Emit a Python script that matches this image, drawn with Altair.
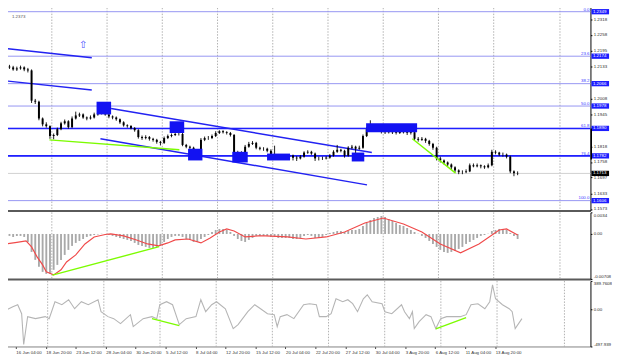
import json
import altair as alt
import pandas as pd

# ---------------- layout (reference pixel scale; page margin offset by negative padding) ----------------
W = 600
H_MAIN, H_MACD, H_CCI = 210, 68, 67
FONT = "Liberation Sans"
FS = 4.5

# ---------------- data ----------------
# H4 bar number (0 = 16 Jun 04:00); one candle drawn per two bars
bar_idx = list(range(-6, 272, 2))
first_open = 1.2133
closes = [
    1.2130, 1.2122, 1.2126,
    1.2130, 1.2122, 1.2118, 1.1999, 1.1995, 1.1929, 1.1906, 1.1899,
    1.1860, 1.1864, 1.1887, 1.1910, 1.1918, 1.1895, 1.1929, 1.1941,
    1.1945, 1.1933, 1.1929, 1.1933, 1.1945, 1.1949, 1.1960, 1.1945,
    1.1937, 1.1933, 1.1926, 1.1914, 1.1902, 1.1899, 1.1891, 1.1883,
    1.1856, 1.1852, 1.1856, 1.1849, 1.1845, 1.1837, 1.1833, 1.1852,
    1.1860, 1.1864, 1.1868, 1.1868, 1.1825, 1.1818, 1.1814, 1.1791,
    1.1798, 1.1845, 1.1852, 1.1852, 1.1860, 1.1872, 1.1879, 1.1875,
    1.1872, 1.1864, 1.1795, 1.1795, 1.1791, 1.1818, 1.1829, 1.1833,
    1.1814, 1.1810, 1.1810, 1.1802, 1.1787, 1.1783, 1.1783, 1.1779,
    1.1779, 1.1783, 1.1775, 1.1772, 1.1779, 1.1795, 1.1798, 1.1791,
    1.1772, 1.1772, 1.1772, 1.1775, 1.1783, 1.1798, 1.1806, 1.1802,
    1.1783, 1.1814, 1.1818, 1.1810, 1.1814, 1.1860, 1.1887, 1.1899,
    1.1895, 1.1891, 1.1879, 1.1875, 1.1879, 1.1875, 1.1872, 1.1879,
    1.1875, 1.1872, 1.1875, 1.1849, 1.1845, 1.1849, 1.1841, 1.1829,
    1.1814, 1.1772, 1.1764, 1.1756, 1.1748, 1.1737, 1.1725, 1.1718,
    1.1718, 1.1721, 1.1745, 1.1741, 1.1745, 1.1741, 1.1737, 1.1745,
    1.1798, 1.1795, 1.1787, 1.1787, 1.1779, 1.1721, 1.1714, 1.1713,
]
highs = [
    1.2140, 1.2136, 1.2133,
    1.2137, 1.2134, 1.2128, 1.2122, 1.2006, 1.1999, 1.1933, 1.1914,
    1.1902, 1.1870, 1.1893, 1.1916, 1.1925, 1.1922, 1.1937, 1.1956,
    1.1952, 1.1949, 1.1937, 1.1941, 1.1952, 1.1956, 1.1972, 1.1966,
    1.1949, 1.1941, 1.1937, 1.1929, 1.1918, 1.1906, 1.1903, 1.1895,
    1.1887, 1.1862, 1.1863, 1.1860, 1.1853, 1.1849, 1.1841, 1.1858,
    1.1866, 1.1870, 1.1875, 1.1887, 1.1872, 1.1829, 1.1822, 1.1818,
    1.1806, 1.1852, 1.1858, 1.1860, 1.1866, 1.1879, 1.1883, 1.1883,
    1.1879, 1.1876, 1.1868, 1.1802, 1.1800, 1.1825, 1.1837, 1.1840,
    1.1837, 1.1818, 1.1816, 1.1814, 1.1808, 1.1822, 1.1789, 1.1787,
    1.1785, 1.1789, 1.1787, 1.1781, 1.1785, 1.1800, 1.1804, 1.1802,
    1.1795, 1.1779, 1.1779, 1.1781, 1.1789, 1.1804, 1.1825, 1.1810,
    1.1806, 1.1820, 1.1825, 1.1822, 1.1822, 1.1866, 1.1895, 1.1922,
    1.1903, 1.1899, 1.1895, 1.1883, 1.1887, 1.1883, 1.1879, 1.1887,
    1.1883, 1.1879, 1.1891, 1.1879, 1.1856, 1.1856, 1.1853, 1.1845,
    1.1833, 1.1818, 1.1779, 1.1768, 1.1760, 1.1752, 1.1741, 1.1729,
    1.1725, 1.1729, 1.1752, 1.1752, 1.1752, 1.1748, 1.1745, 1.1752,
    1.1806, 1.1804, 1.1798, 1.1795, 1.1791, 1.1783, 1.1725, 1.1721,
]
lows = [
    1.2124, 1.2117, 1.2116,
    1.2121, 1.2115, 1.2110, 1.1990, 1.1986, 1.1922, 1.1898, 1.1893,
    1.1849, 1.1847, 1.1860, 1.1883, 1.1905, 1.1889, 1.1891, 1.1925,
    1.1935, 1.1928, 1.1922, 1.1925, 1.1929, 1.1940, 1.1945, 1.1940,
    1.1930, 1.1926, 1.1920, 1.1908, 1.1897, 1.1893, 1.1886, 1.1877,
    1.1850, 1.1845, 1.1847, 1.1842, 1.1838, 1.1830, 1.1823, 1.1829,
    1.1848, 1.1855, 1.1860, 1.1862, 1.1820, 1.1812, 1.1806, 1.1782,
    1.1786, 1.1795, 1.1840, 1.1845, 1.1848, 1.1856, 1.1868, 1.1870,
    1.1866, 1.1858, 1.1788, 1.1786, 1.1783, 1.1787, 1.1814, 1.1825,
    1.1808, 1.1804, 1.1802, 1.1796, 1.1781, 1.1777, 1.1776, 1.1772,
    1.1771, 1.1774, 1.1764, 1.1762, 1.1768, 1.1775, 1.1790, 1.1786,
    1.1762, 1.1764, 1.1766, 1.1768, 1.1771, 1.1779, 1.1794, 1.1796,
    1.1775, 1.1779, 1.1808, 1.1775, 1.1806, 1.1810, 1.1856, 1.1883,
    1.1887, 1.1883, 1.1870, 1.1868, 1.1870, 1.1868, 1.1866, 1.1868,
    1.1870, 1.1864, 1.1866, 1.1841, 1.1838, 1.1841, 1.1833, 1.1822,
    1.1806, 1.1764, 1.1756, 1.1748, 1.1741, 1.1729, 1.1718, 1.1710,
    1.1710, 1.1714, 1.1718, 1.1737, 1.1737, 1.1733, 1.1731, 1.1733,
    1.1741, 1.1788, 1.1781, 1.1779, 1.1772, 1.1714, 1.1702, 1.1706,
]
macd_hist = [
    -0.00031, -0.00047, -0.00031,
    -0.00031, -0.00047, -0.00126, -0.00283, -0.00408, -0.00518, -0.00597, -0.00628,
    -0.00628, -0.00565, -0.00487, -0.00408, -0.00330, -0.00251, -0.00188, -0.00141,
    -0.00110, -0.00079, -0.00047, -0.00031, -0.00016, -0.00008, 0.00004, -0.00008,
    -0.00016, -0.00031, -0.00047, -0.00063, -0.00079, -0.00094, -0.00110, -0.00141,
    -0.00173, -0.00188, -0.00204, -0.00220, -0.00220, -0.00204, -0.00173, -0.00126,
    -0.00079, -0.00047, -0.00031, -0.00031, -0.00047, -0.00079, -0.00094, -0.00126,
    -0.00126, -0.00079, -0.00047, -0.00016, 0.00031, 0.00063, 0.00079, 0.00079,
    0.00063, 0.00031, -0.00031, -0.00079, -0.00110, -0.00126, -0.00094, -0.00063,
    -0.00031, -0.00031, -0.00031, -0.00031, -0.00047, -0.00047, -0.00063, -0.00063,
    -0.00063, -0.00063, -0.00079, -0.00079, -0.00063, -0.00031, -0.00016, -0.00031,
    -0.00063, -0.00063, -0.00047, -0.00016, 0.00016, 0.00031, 0.00047, 0.00047,
    0.00031, 0.00047, 0.00063, 0.00063, 0.00079, 0.00126, 0.00173, 0.00220,
    0.00251, 0.00267, 0.00283, 0.00267, 0.00236, 0.00204, 0.00173, 0.00141,
    0.00126, 0.00094, 0.00063, 0.00031, 0.00004, -0.00031, -0.00063, -0.00110,
    -0.00157, -0.00204, -0.00251, -0.00283, -0.00298, -0.00283, -0.00267, -0.00236,
    -0.00204, -0.00157, -0.00126, -0.00094, -0.00063, -0.00031, -0.00016, 0.00004,
    0.00047, 0.00063, 0.00079, 0.00079, 0.00063, 0.00016, -0.00031, -0.00079,
]

sig_idx = [-6.8, -2, 3, 6, 9, 12, 14, 18, 22, 25, 30, 35, 40, 46, 49, 56, 63, 69, 75, 80,
           84, 91, 98, 103, 108, 112, 116, 122, 129, 133, 145, 155, 166, 176, 187, 197,
           208, 218, 228, 239, 249, 260, 264, 270]
sig_val = [-0.00152, -0.00133, -0.00110, -0.00204, -0.00361, -0.00487, -0.00597, -0.00644,
           -0.00565, -0.00440, -0.00330, -0.00157, -0.00047, -0.00008, 0.0, -0.00031,
           -0.00094, -0.00157, -0.00188, -0.00141, -0.00094, -0.00079, -0.00141, -0.00063,
           0.00031, 0.00079, 0.00047, -0.00047, -0.00031, -0.00031, -0.00047, -0.00079,
           -0.00047, 0.00031, 0.00173, 0.00251, 0.00157, 0.00031, -0.00157, -0.00298,
           -0.00157, 0.00063, 0.00079, -0.00016]

cci_idx = [-6.8, -1.6, 1.0, 3.1, 4.2, 6.3, 10.5, 15.7, 17.8, 20.9, 24.6, 28.2, 31.4, 35.0,
           38.7, 43.9, 45.5, 49.2, 52.3, 55.9, 61.2, 62.7, 68.0, 72.7, 75.3, 76.9, 80.5,
           83.7, 87.3, 91.0, 96.2, 98.8, 101.4, 104.6, 107.2, 111.9, 116.1, 118.7, 123.9,
           127.6, 130.7, 134.4, 138.0, 139.6, 141.2, 144.8, 148.5, 153.7, 156.9, 160.5,
           162.1, 165.8, 168.4, 171.0, 174.6, 177.3, 179.9, 182.5, 185.6, 187.7, 190.3,
           195.6, 197.1, 200.8, 206.0, 207.6, 210.2, 211.8, 212.8, 215.4, 219.1, 221.7,
           224.3, 226.9, 230.1, 237.4, 240.5, 243.1, 246.8, 250.5, 253.1, 254.6, 256.2,
           259.9, 263.5, 265.1, 266.7, 270.3]
cci_val = [-27, 40, 67, -54, -471, -94, -121, -94, -121, 108, 67, 135, 13, 108,
           67, 135, -27, -94, -121, -188, -67, -229, -121, -94, -121, 67, 108,
           67, -202, -121, -94, 135, -27, 67, 108, 13, -256, -202, -27,
           67, 13, -54, -67, -229, -94, -67, -121, 67, 81, 67,
           -94, -94, -54, 148, 108, 135, 81, -27, 148, 202, 108,
           81, -27, -54, 67, -27, -121, -27, -256, -161, -67, -94,
           -256, -121, -94, -94, -67, 67, 81, 13, 108, 336, 148,
           67, 13, -27, -256, -121]

week_grid = [17, 47, 77, 107, 137, 167, 197, 227, 257, 293]
tick_idx = [0, 16, 32, 48, 64, 80, 96, 112, 128, 144, 160, 176, 192, 208, 224, 240, 256]
tick_labels = ["16 Jun 04:00", "18 Jun 20:00", "23 Jun 12:00", "28 Jun 04:00",
               "30 Jun 20:00", "5 Jul 12:00", "8 Jul 04:00", "12 Jul 20:00",
               "15 Jul 12:00", "20 Jul 04:00", "22 Jul 20:00", "27 Jul 12:00",
               "30 Jul 04:00", "3 Aug 20:00", "6 Aug 12:00", "11 Aug 04:00",
               "13 Aug 20:00"]

price_ticks = [1.2318, 1.2258, 1.2195, 1.2133, 1.2008, 1.1945, 1.1818, 1.1758,
               1.1697, 1.1633, 1.1573]
fib_levels = ["0.0", "23.6", "38.2", "50.0", "61.8", "76.4", "100.0"]
fib_prices = [1.2349, 1.2174, 1.2066, 1.1978, 1.1890, 1.1782, 1.1606]
bold_prices = [1.1890, 1.1782]
bid_price = [1.1713]
range_bar = [1.1890, 1.1768]
top_text = ["1.2373"]

chan_x1 = [-6.8, -6.8, 49.2, 43.4]
chan_y1 = [1.2203, 1.2076, 1.1968, 1.1849]
chan_x2 = [38.7, 38.7, 190.8, 188.2]
chan_y2 = [1.2168, 1.2041, 1.1795, 1.1668]

rect_x1 = [41.3, 81.0, 91.0, 115.0, 133.9, 179.9, 187.7]
rect_x2 = [49.2, 88.9, 98.8, 123.4, 146.4, 186.7, 215.4]
rect_y1 = [1.1995, 1.1918, 1.1810, 1.1798, 1.1791, 1.1795, 1.1910]
rect_y2 = [1.1945, 1.1872, 1.1764, 1.1756, 1.1764, 1.1760, 1.1875]

green_x1 = [15.7, 212.8]
green_y1 = [1.1845, 1.1849]
green_x2 = [86.3, 236.3]
green_y2 = [1.1806, 1.1714]

arrow_idx, arrow_price = [34], [1.2216]

macd_green = {"x1": [17.3], "y1": [-0.00647], "x2": [75.3], "y2": [-0.0020]}
cci_green = {"x1": [72.7, 224.3], "y1": [-121, -260], "x2": [87.3, 240.5], "y2": [-215, -108]}

macd_ticks = [0.0034, 0.0, -0.00708]
macd_tick_text = ["0.0034", "0.00", "-0.00708"]
cci_ticks = [389.7608, 0.0, -497.939]
cci_tick_text = ["389.7608", "0.00", "-497.939"]

# ---------------- frames ----------------
opens = [first_open] + closes[:-1]
cdf = pd.DataFrame({"i": bar_idx, "open": opens, "close": closes,
                    "high": highs, "low": lows, "hist": macd_hist})
grid_df = pd.DataFrame({"g": week_grid})
fib_df = pd.DataFrame({"price": fib_prices, "level": fib_levels,
                       "ptxt": [f"{p:.4f}" for p in fib_prices]})
cur_df = pd.DataFrame({"price": bid_price, "ptxt": [f"{p:.4f}" for p in bid_price]})
chan_df = pd.DataFrame({"x1": chan_x1, "y1": chan_y1, "x2": chan_x2, "y2": chan_y2})
rect_df = pd.DataFrame({"x1": rect_x1, "x2": rect_x2, "y1": rect_y1, "y2": rect_y2})
green_df = pd.DataFrame({"x1": green_x1, "y1": green_y1, "x2": green_x2, "y2": green_y2})
sig_df = pd.DataFrame({"i": sig_idx, "v": sig_val})
cci_df = pd.DataFrame({"i": cci_idx, "v": cci_val})

xs = alt.Scale(domain=[-6.8, 306.9], nice=False, zero=False)
ys_main = alt.Scale(domain=[1.15675, 1.2376], nice=False, zero=False)
ys_macd = alt.Scale(domain=[-0.00708, 0.0034], nice=False, zero=False)
ys_cci = alt.Scale(domain=[-497.939, 389.7608], nice=False, zero=False)


def lookup_expr(texts, vals):
    return f"{json.dumps(texts)}[indexof({json.dumps(vals)}, datum.value)]"


SEP_AXIS = alt.Axis(orient="bottom", labels=False, ticks=False, domain=True,
                    domainColor="#5a5a5a", domainWidth=2, grid=False, title=None)

right_common = dict(orient="right", labelFontSize=FS, labelFont=FONT, labelColor="#2a2a2a",
                    tickSize=1.5, tickColor="#000000", domainColor="#000000", domainWidth=1,
                    labelPadding=1.3, grid=False, title=None, labelOverlap=False)

MAIN_Y = alt.Axis(values=price_ticks, format=".4f", **right_common)
MACD_Y = alt.Axis(values=macd_ticks, labelExpr=lookup_expr(macd_tick_text, macd_ticks),
                  labelFlush=True, **right_common)
CCI_Y = alt.Axis(values=cci_ticks, labelExpr=lookup_expr(cci_tick_text, cci_ticks),
                 labelFlush=True, **right_common)
BOTTOM_X = alt.Axis(orient="bottom", values=tick_idx,
                    labelExpr=lookup_expr(tick_labels, tick_idx),
                    labelAlign="left", labelFontSize=FS, labelFont=FONT,
                    labelColor="#333333", tickSize=2, tickColor="#333333",
                    domainColor="#808080", domainWidth=1, labelPadding=1,
                    labelOverlap=False, labelFlush=False, grid=False, title=None)

# price box: custom symbol path, scaled by sqrt(size)/2 -> 18 px wide, 5.4 px tall
BOX_PATH = "M-1,-0.3H1V0.3H-1Z"
BOX_SIZE = 324
BOX_X = W + 10

grid_mark = dict(color="#9c9c9c", strokeWidth=0.8, strokeDash=[1.5, 1.5])


def panel(xaxis, yscale, yaxis):
    def X(f):
        return alt.X(f, type="quantitative", scale=xs, axis=xaxis)

    def Y(f):
        return alt.Y(f, type="quantitative", scale=yscale, axis=yaxis)
    return X, Y


# ---------------- main price panel ----------------
X, Y = panel(SEP_AXIS, ys_main, MAIN_Y)
g_main = alt.Chart(grid_df).mark_rule(**grid_mark).encode(x=X("g"))
fibl = alt.Chart(fib_df).mark_rule(color="#9494f2", strokeWidth=1).encode(y=Y("price"))
bold = alt.Chart(pd.DataFrame({"price": bold_prices})).mark_rule(
    color="#1f1fff", strokeWidth=1.6).encode(y=Y("price"))
bid = alt.Chart(cur_df).mark_rule(color="#d0d0d0", strokeWidth=1).encode(y=Y("price"))
chan = alt.Chart(chan_df).mark_rule(color="#2222f2", strokeWidth=1.5).encode(
    x=X("x1"), x2="x2:Q", y=Y("y1"), y2="y2:Q")
wick = alt.Chart(cdf).mark_rule(color="#000000", strokeWidth=0.9).encode(
    x=X("i"), y=Y("low"), y2="high:Q")
body = alt.Chart(cdf).mark_bar(color="#000000", size=2.0).encode(
    x=X("i"), y=Y("open"), y2="close:Q")
rects = alt.Chart(rect_df).mark_rect(color="#1212f2").encode(
    x=X("x1"), x2="x2:Q", y=Y("y1"), y2="y2:Q")
green = alt.Chart(green_df).mark_rule(color="#7cfc00", strokeWidth=1.4).encode(
    x=X("x1"), x2="x2:Q", y=Y("y1"), y2="y2:Q")
arrow = alt.Chart(pd.DataFrame({"i": arrow_idx, "p": arrow_price, "t": ["⇧"]})).mark_text(
    font="DejaVu Sans", fontSize=10, color="#4a4aff", baseline="middle").encode(
    x=X("i"), y=Y("p"), text="t:N")
fib_txt = alt.Chart(fib_df).mark_text(align="right", baseline="bottom", fontSize=FS, font=FONT,
                                      color="#3a3aff", dy=-0.2).encode(
    x=alt.value(W - 1), y=Y("price"), text="level:N")
boxes = alt.Chart(fib_df).mark_point(shape=BOX_PATH, size=BOX_SIZE, filled=True, opacity=1,
                                     color="#1d1dff", strokeWidth=0).encode(
    x=alt.value(BOX_X), y=Y("price"))
box_txt = alt.Chart(fib_df).mark_text(align="left", baseline="middle", fontSize=FS, font=FONT,
                                      color="#ffffff").encode(
    x=alt.value(W + 2.5), y=Y("price"), text="ptxt:N")
cur_box = alt.Chart(cur_df).mark_point(shape=BOX_PATH, size=BOX_SIZE, filled=True, opacity=1,
                                       color="#000000", strokeWidth=0).encode(
    x=alt.value(BOX_X), y=Y("price"))
cur_txt = alt.Chart(cur_df).mark_text(align="left", baseline="middle", fontSize=FS, font=FONT,
                                      color="#ffffff").encode(
    x=alt.value(W + 2.5), y=Y("price"), text="ptxt:N")
rng = alt.Chart(pd.DataFrame({"a": [range_bar[0]], "b": [range_bar[1]]})).mark_rule(
    color="#000000", strokeWidth=1.5).encode(x=alt.value(W + 0.8), y=Y("a"), y2="b:Q")
# top-left price note, kept just inside the visible area of the page
top = alt.Chart(pd.DataFrame({"t": top_text})).mark_text(
    align="left", baseline="top", fontSize=FS, font=FONT, color="#555555").encode(
    x=alt.value(9), y=alt.value(9), text="t:N")

main = alt.layer(g_main, fibl, bold, bid, chan, wick, body, rects, green, arrow,
                 fib_txt, boxes, box_txt, cur_box, cur_txt, rng, top).properties(
    width=W, height=H_MAIN)

# ---------------- MACD panel ----------------
X, Y = panel(SEP_AXIS, ys_macd, MACD_Y)
g_macd = alt.Chart(grid_df).mark_rule(**grid_mark).encode(x=X("g"))
hist = alt.Chart(cdf).mark_bar(color="#a9a9a9", size=1.9).encode(
    x=X("i"), y=Y("hist"), y2=alt.datum(0))
sig = alt.Chart(sig_df).mark_line(color="#f04a4a", strokeWidth=1.2).encode(
    x=X("i"), y=Y("v"))
mg = alt.Chart(pd.DataFrame(macd_green)).mark_rule(color="#7cfc00", strokeWidth=1.4).encode(
    x=X("x1"), x2="x2:Q", y=Y("y1"), y2="y2:Q")
macd = alt.layer(g_macd, hist, sig, mg).properties(width=W, height=H_MACD)

# ---------------- CCI panel ----------------
X, Y = panel(BOTTOM_X, ys_cci, CCI_Y)
g_cci = alt.Chart(grid_df).mark_rule(**grid_mark).encode(x=X("g"))
cci_line = alt.Chart(cci_df).mark_line(color="#b5b5b5", strokeWidth=1.1).encode(
    x=X("i"), y=Y("v"))
cg = alt.Chart(pd.DataFrame(cci_green)).mark_rule(color="#7cfc00", strokeWidth=1.4).encode(
    x=X("x1"), x2="x2:Q", y=Y("y1"), y2="y2:Q")
cci = alt.layer(g_cci, cci_line, cg).properties(width=W, height=H_CCI)

# negative left/top padding cancels the page's 8px margin so the chart sits at the window origin
chart = alt.vconcat(main, macd, cci, spacing=0).properties(
    padding={"left": -8, "right": 0, "top": -8, "bottom": 0},
    background="white").configure_view(stroke=None)

chart.save("out.html", embed_options={"renderer": "svg", "actions": False})
